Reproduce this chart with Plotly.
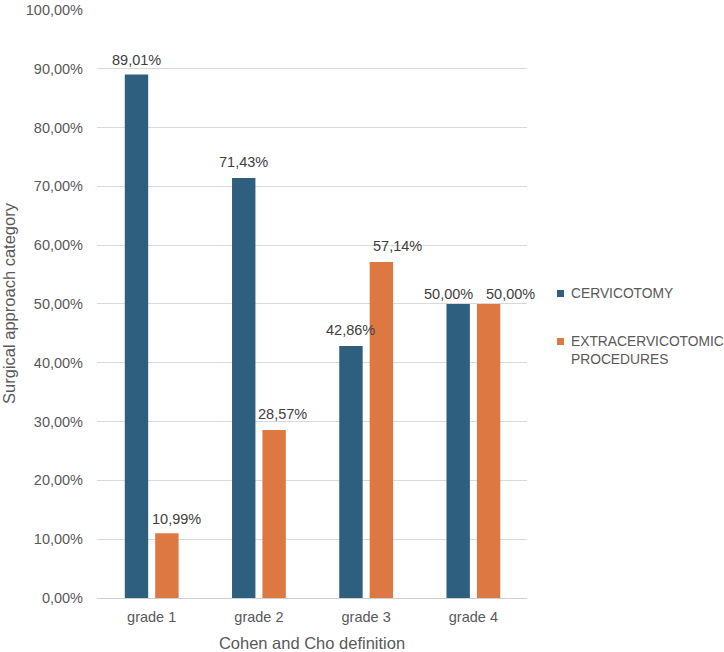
import plotly.graph_objects as go

categories = ["grade 1", "grade 2", "grade 3", "grade 4"]
cervicotomy = [89.01, 71.43, 42.86, 50.00]
extracervicotomic = [10.99, 28.57, 57.14, 50.00]
series_names = ["CERVICOTOMY", "EXTRACERVICOTOMIC<br>PROCEDURES"]
series_colors = ["#2E5F7F", "#DE7842"]
tick_vals = [0, 10, 20, 30, 40, 50, 60, 70, 80, 90, 100]
tick_text = [f"{v:.2f}".replace(".", ",") + "%" for v in tick_vals]

# label nudges (pixels) as in the reference's manually placed data labels
label_dx = [[0, 0, 0, -10], [10, 8, 16, 22]]
label_dy = [[15, 16, 16, 10], [14, 16, 16, 10]]

FONT = "Liberation Sans, Arial, sans-serif"
GRAY = "#595959"

L, R, T, B = 97, 197, 9, 54
W, H = 724, 652
PW, PH = W - L - R, H - T - B
XRANGE = [-0.51, 3.5]
BARGAP, GROUPGAP = 0.433, 0.23
unit = PW / (XRANGE[1] - XRANGE[0])
slot = unit * (1 - BARGAP) / 2

fig = go.Figure()
for si, (vals, name, col) in enumerate(zip([cervicotomy, extracervicotomic], series_names, series_colors)):
    fig.add_trace(go.Bar(
        x=categories, y=vals, name=name,
        marker_color=col, marker_line_width=0,
        showlegend=False,
    ))
    for ci, (cat, v) in enumerate(zip(categories, vals)):
        fig.add_annotation(
            x=cat, y=v, xref="x", yref="y",
            text=f"{v:.2f}".replace(".", ",") + "%",
            showarrow=False, xanchor="center", yanchor="middle",
            xshift=(si - 0.5) * slot + label_dx[si][ci],
            yshift=label_dy[si][ci],
            font=dict(size=14.5, color="#404040", family=FONT),
        )

# manual legend (square swatches + labels) placed in the right margin
leg_y = [293.5, 341.5]
for name, col, yy in zip(series_names, series_colors, leg_y):
    x0 = (557 - L) / PW
    x1 = (564 - L) / PW
    y0 = (H - B - (yy + 3.5)) / PH
    y1 = (H - B - (yy - 3.5)) / PH
    fig.add_shape(type="rect", xref="paper", yref="paper", x0=x0, x1=x1, y0=y0, y1=y1,
                  fillcolor=col, line_width=0)
    fig.add_annotation(xref="paper", yref="paper", x=(569 - L) / PW, y=(H - B - yy) / PH,
                       xanchor="left", yanchor="top" if "<br>" in name else "middle",
                       yshift=9 if "<br>" in name else 0,
                       text=name, showarrow=False, align="left",
                       font=dict(size=13.8, color=GRAY, family=FONT))

fig.update_layout(
    width=W, height=H,
    margin=dict(l=L, r=R, t=T, b=B, autoexpand=False),
    paper_bgcolor="white", plot_bgcolor="white",
    separators=",.",
    barmode="group", bargap=BARGAP, bargroupgap=GROUPGAP,
    font=dict(family=FONT, size=14, color=GRAY),
    showlegend=False,
    xaxis=dict(
        title=dict(text="Cohen and Cho definition", font=dict(size=16.5, color=GRAY), standoff=13),
        range=XRANGE,
        showline=True, linecolor="#D0D0D0", linewidth=1,
        ticks="", tickfont=dict(size=14.5, color=GRAY), ticklabelstandoff=6,
        showgrid=False,
    ),
    yaxis=dict(
        title=dict(text="Surgical approach category", font=dict(size=16.5, color=GRAY), standoff=10),
        range=[0, 100.15], tickvals=tick_vals, ticktext=tick_text,
        showgrid=True, gridcolor="#D9D9D9", gridwidth=1,
        zeroline=False, ticks="", tickfont=dict(size=14.5, color=GRAY),
        ticklabelstandoff=13,
    ),
)

fig.write_html("out.html")
